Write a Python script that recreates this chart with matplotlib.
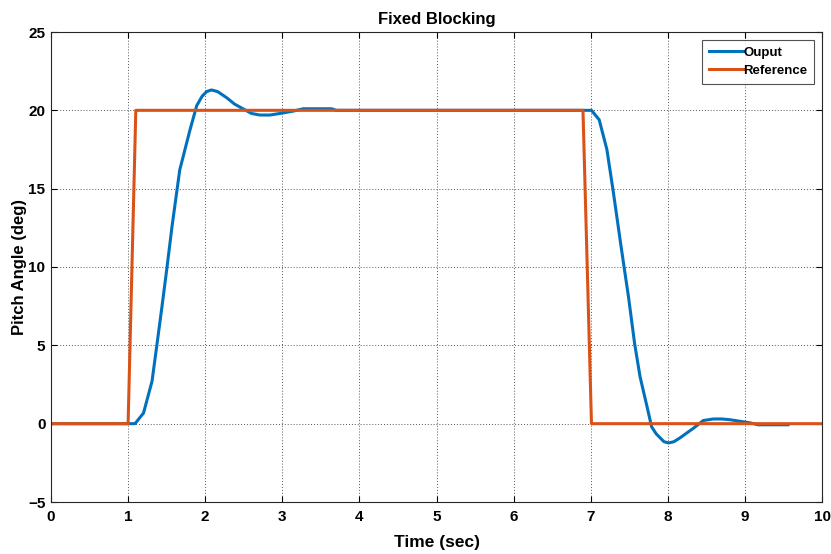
import matplotlib
matplotlib.use("Agg")
import matplotlib.pyplot as plt

# Output (blue) trace
out_t = [0.0, 1.0, 1.09, 1.20, 1.31, 1.37, 1.44, 1.50, 1.57, 1.67, 1.80, 1.89, 1.96, 2.02, 2.08,
         2.16, 2.28, 2.38, 2.49, 2.60, 2.71, 2.84, 2.97, 3.14, 3.27, 3.64, 3.70, 6.90, 7.01,
         7.11, 7.21, 7.29, 7.40, 7.49, 7.57, 7.64, 7.73, 7.79, 7.85, 7.90, 7.95, 8.01, 8.08,
         8.16, 8.33, 8.46, 8.59, 8.70, 8.81, 8.94, 9.07, 9.17, 9.56]
out_y = [0.0, 0.0, 0.0, 0.68, 2.7, 4.9, 7.5, 9.8, 12.6, 16.2, 18.7, 20.3, 20.9, 21.2, 21.3,
         21.2, 20.8, 20.4, 20.1, 19.8, 19.7, 19.7, 19.8, 19.95, 20.1, 20.1, 20.0, 20.0, 20.0,
         19.4, 17.5, 14.9, 11.1, 8.1, 5.1, 3.0, 1.1, -0.2, -0.65, -0.9, -1.15, -1.23, -1.15,
         -0.9, -0.3, 0.2, 0.3, 0.3, 0.25, 0.15, 0.05, -0.07, -0.07]

# Reference (orange) trace
ref_t = [0.0, 1.0, 1.10, 6.90, 7.01, 10.0]
ref_y = [0.0, 0.0, 20.0, 20.0, 0.0, 0.0]

xticks = list(range(0, 11))
yticks = [-5, 0, 5, 10, 15, 20, 25]

plt.rcParams['font.family'] = ['Liberation Sans', 'DejaVu Sans']
plt.rcParams['font.weight'] = 'bold'

fig = plt.figure(figsize=(8.31, 5.54), dpi=100)
ax = fig.add_axes([51/831, 1-502/554, (822-51)/831, (502-32)/554])

ax.plot(out_t, out_y, color='#0072BD', lw=2.2, label='Ouput')
ax.plot(ref_t, ref_y, color='#D95319', lw=2.2, label='Reference')

ax.set_xlim(0, 10)
ax.set_ylim(-5, 25)
ax.set_xticks(xticks)
ax.set_yticks(yticks)
ax.grid(True, color='#555555', linestyle=(0, (1, 2)), linewidth=0.7)
ax.tick_params(direction='in', top=True, right=True, labelsize=11, length=4, width=0.8)
ax.tick_params(axis='x', pad=6)
ax.tick_params(axis='y', pad=4)
for lab in ax.get_xticklabels() + ax.get_yticklabels():
    lab.set_fontweight('bold')
for s in ax.spines.values():
    s.set_linewidth(0.8)
    s.set_color('#262626')

ax.set_title('Fixed Blocking', fontsize=12, fontweight='bold', pad=6)
ax.set_xlabel('Time (sec)', fontsize=12.5, fontweight='bold')
ax.set_ylabel('Pitch Angle (deg)', fontsize=12, fontweight='bold')
ax.xaxis.set_label_coords(0.5, -0.07)
ax.yaxis.set_label_coords(-0.031, 0.5)

leg = ax.legend(loc='upper right', fontsize=9.5, frameon=True, fancybox=False,
                edgecolor='#262626', handlelength=2.6, handletextpad=0.0,
                borderpad=0.5, labelspacing=0.45, borderaxespad=0.6)
leg.get_frame().set_linewidth(0.8)
for t in leg.get_texts():
    t.set_fontweight('bold')

fig.savefig('out.png', dpi=100)
